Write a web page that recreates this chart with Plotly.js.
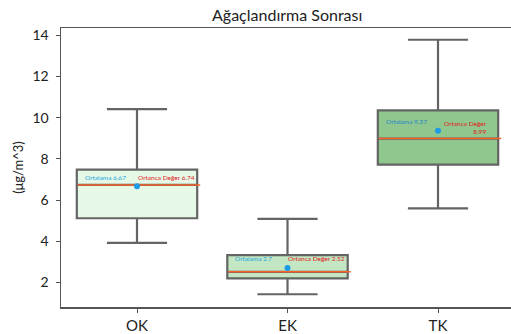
<!DOCTYPE html>
<html><head><meta charset="utf-8">
<script src="https://cdn.plot.ly/plotly-3.0.1.min.js"></script>
<style>body{margin:0;background:#fff}#c{width:511px;height:334px}</style>
</head><body><div id="c"></div>
<script>
const categories = ["OK", "EK", "TK"];
const q1 = [5.12, 2.2, 7.72];
const medians = [6.74, 2.52, 8.99];
const q3 = [7.48, 3.33, 10.36];
const lowerWhisker = [3.92, 1.43, 5.6];
const upperWhisker = [10.42, 5.09, 13.79];
const means = [6.67, 2.7, 9.37];
const meanLabels = ["Ortalama 6.67", "Ortalama 2.7", "Ortalama 9.37"];
const medianLabels = ["Ortanca Değer 6.74", "Ortanca Değer 2.52", "Ortanca Değer<br>8.99"];
const fills = ["#e6f9e6", "#c3e6c3", "#8fc78f"];

const FONT = "Lato, 'Open Sans', sans-serif";
const traces = [];
categories.forEach((c, i) => {
  traces.push({
    type: "box", x: [i], q1: [q1[i]], median: [medians[i]], q3: [q3[i]],
    lowerfence: [lowerWhisker[i]], upperfence: [upperWhisker[i]],
    fillcolor: fills[i], line: {color: "#646464", width: 2.2},
    width: 0.8, whiskerwidth: 0.5, boxpoints: false, showlegend: false, hoverinfo: "skip"
  });
});
categories.forEach((c, i) => {
  traces.push({
    type: "scatter", mode: "lines", x: [i - 0.395, i + 0.42], y: [medians[i], medians[i]],
    line: {color: "#f5632a", width: 1.5}, showlegend: false, hoverinfo: "skip"
  });
});
traces.push({
  type: "scatter", mode: "markers", x: categories.map((c, i) => i), y: means,
  marker: {color: "#1e9be6", size: 6}, showlegend: false, hoverinfo: "skip"
});

const annotations = [];
categories.forEach((c, i) => {
  annotations.push({x: i - 0.36, y: means[i] + 0.45, xref: "x", yref: "y", text: meanLabels[i],
    showarrow: false, xanchor: "left", yanchor: "middle",
    font: {family: FONT, size: 6.5, color: i === 2 ? "#2a86c8" : "#1ca6e2"}});
});
annotations.push({x: -0.01, y: means[0] + 0.45, text: medianLabels[0], showarrow: false, xanchor: "left", yanchor: "middle", font: {family: FONT, size: 6.5, color: "#e0201c"}});
annotations.push({x: 0.99, y: means[1] + 0.45, text: medianLabels[1], showarrow: false, xanchor: "left", yanchor: "middle", font: {family: FONT, size: 6.5, color: "#e0201c"}});
annotations.push({x: 2.34, y: medians[2] + 0.55, text: medianLabels[2], showarrow: false, xanchor: "right", yanchor: "middle", align: "right", font: {family: FONT, size: 6.5, color: "#e0201c"}});

const layout = {
  width: 511, height: 334,
  margin: {l: 61, r: 0, t: 28, b: 27},
  paper_bgcolor: "#fff", plot_bgcolor: "#fff",
  font: {family: FONT, color: "#333"},
  title: {text: "Ağaçlandırma Sonrası", x: 0.562, xanchor: "center", y: 0.955, yanchor: "middle", font: {family: FONT, size: 16, color: "#222"}},
  xaxis: {
    range: [-0.505, 2.485], tickvals: [0, 1, 2], ticktext: categories,
    showgrid: false, zeroline: false, showline: true, linecolor: "#555", linewidth: 1.5, mirror: true,
    ticks: "outside", ticklen: 4, tickcolor: "#555", tickfont: {family: FONT, size: 15, color: "#222"}
  },
  yaxis: {
    range: [0.81, 14.36], tickvals: [2, 4, 6, 8, 10, 12, 14],
    showgrid: false, zeroline: false, showline: true, linecolor: "#555", linewidth: 1.5,
    ticks: "outside", ticklen: 4, tickcolor: "#555", ticklabelstandoff: 4,
    tickfont: {family: FONT, size: 14, color: "#222"},
    title: {text: "(μg/m^3)", standoff: 6, font: {family: FONT, size: 13, color: "#222"}}
  },
  annotations: annotations
};
Plotly.newPlot("c", traces, layout, {staticPlot: true});
</script></body></html>
